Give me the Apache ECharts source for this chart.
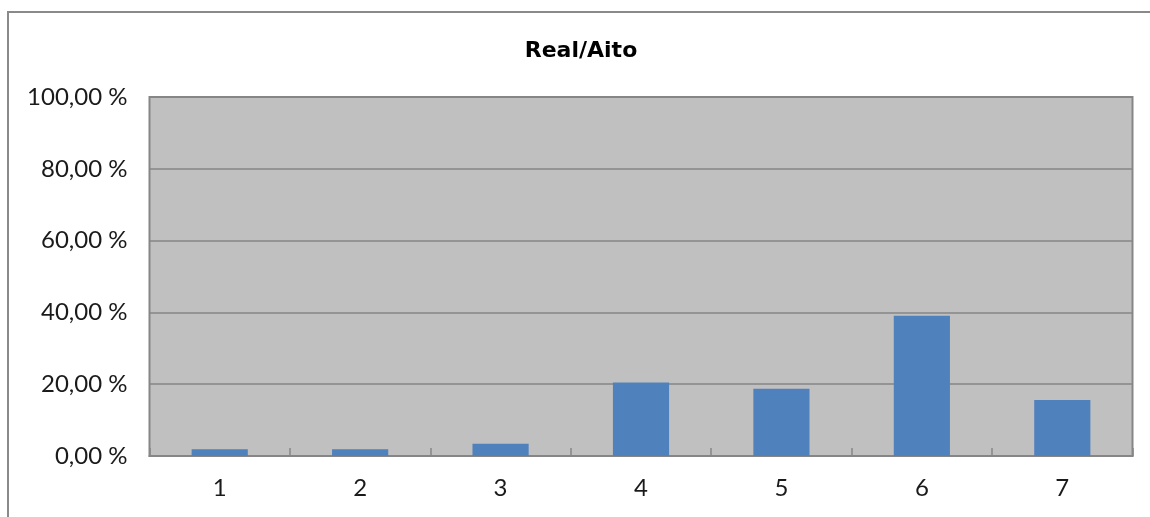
<!DOCTYPE html>
<html>
<head>
<meta charset="utf-8">
<script src="https://cdn.jsdelivr.net/npm/echarts@6/dist/echarts.min.js"></script>
<style>
  html, body { margin: 0; padding: 0; background: #ffffff; }
  #chart { width: 1150px; height: 517px; }
</style>
</head>
<body>
<div id="chart"></div>
<script>
const titleText = 'Real/Aito';
const categories = ['1', '2', '3', '4', '5', '6', '7'];
const values = [1.9, 1.9, 3.4, 20.5, 18.7, 39.1, 15.6];
const yTicks = [0, 20, 40, 60, 80, 100];

const chart = echarts.init(document.getElementById('chart'), null, { renderer: 'canvas' });
const labelFont = 'Lato, "Open Sans", sans-serif';

chart.setOption({
  animation: false,
  backgroundColor: '#ffffff',
  graphic: [
    {
      type: 'rect',
      x: 8, y: 12,
      shape: { x: 0, y: 0, width: 1300, height: 700 },
      style: { fill: 'none', stroke: '#8a8a8a', lineWidth: 2 },
      silent: true, z: 0
    },
    {
      type: 'text',
      x: 581, y: 51,
      style: {
        text: titleText,
        fill: '#000000',
        font: 'bold 22px "DejaVu Sans", sans-serif',
        textAlign: 'center',
        textVerticalAlign: 'middle'
      },
      z: 10
    }
  ],
  grid: {
    left: 149.5, right: 17.5, top: 97, bottom: 61,
    show: true,
    backgroundColor: '#C0C0C0',
    borderColor: '#868686',
    borderWidth: 2
  },
  xAxis: {
    type: 'category',
    data: categories,
    boundaryGap: true,
    axisLine: { show: true, lineStyle: { color: '#868686', width: 2 } },
    axisTick: { show: true, inside: true, length: 8, alignWithLabel: false, lineStyle: { color: '#868686', width: 1.5 } },
    axisLabel: { color: '#1a1a1a', fontSize: 24, fontFamily: labelFont, margin: 20 },
    splitLine: { show: false }
  },
  yAxis: {
    type: 'value',
    min: yTicks[0],
    max: yTicks[yTicks.length - 1],
    interval: 20,
    axisLine: { show: false },
    axisTick: { show: false },
    axisLabel: {
      color: '#1a1a1a', fontSize: 24, fontFamily: labelFont, margin: 22,
      formatter: v => v.toFixed(2).replace('.', ',') + ' %'
    },
    splitLine: { show: true, lineStyle: { color: '#868686', width: 1.5 } }
  },
  series: [{
    type: 'bar',
    data: values,
    barWidth: '40%',
    itemStyle: { color: '#4F81BD' }
  }]
});
</script>
</body>
</html>
